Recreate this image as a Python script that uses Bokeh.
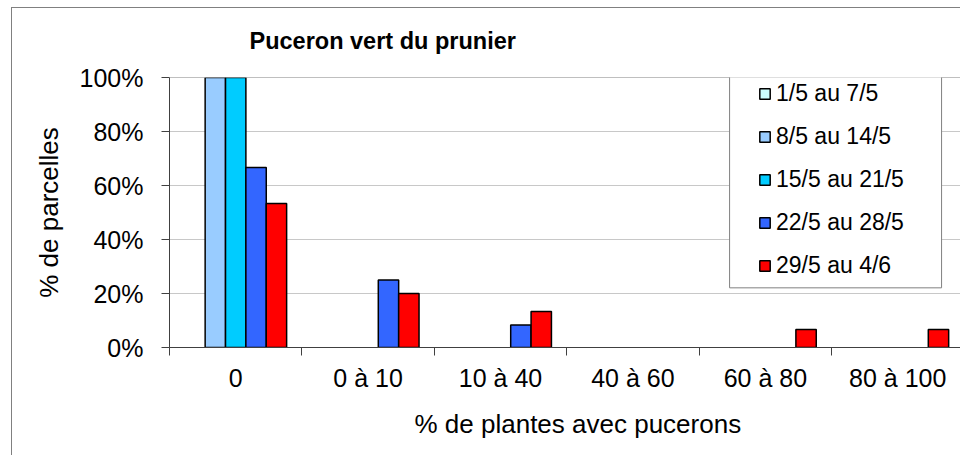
from bokeh.plotting import figure
from bokeh.models import (FixedTicker, PrintfTickFormatter, Legend, LegendItem,
                          Title, Span, BoxAnnotation, Range1d, ColumnDataSource)
from bokeh.embed import file_html
from bokeh.resources import INLINE

# ---------------- data ----------------
categories = ["0", "0 à 10", "10 à 40", "40 à 60", "60 à 80", "80 à 100"]
series_names = ["1/5 au 7/5", "8/5 au 14/5", "15/5 au 21/5", "22/5 au 28/5", "29/5 au 4/6"]
s_01_05 = [0, 0, 0, 0, 0, 0]
s_08_05 = [100, 0, 0, 0, 0, 0]
s_15_05 = [100, 0, 0, 0, 0, 0]
s_22_05 = [66.7, 25, 8.3, 0, 0, 0]
s_29_05 = [53.3, 20, 13.3, 0, 6.7, 6.7]
y_ticks = [0, 20, 40, 60, 80, 100]

series_values = [s_01_05, s_08_05, s_15_05, s_22_05, s_29_05]
colors = ["#CCFFFF", "#99CCFF", "#00CCFF", "#3366FF", "#FF0000"]

FONT = "Liberation Sans"

p = figure(width=960, height=455, output_backend="svg", toolbar_location=None,
           x_range=Range1d(0, 5.974), y_range=Range1d(0, 100),
           min_border_left=169, min_border_top=77, min_border_bottom=107,
           min_border_right=0, outline_line_color=None,
           background_fill_color="white", border_fill_alpha=0)
p.margin = (0, 0, 0, 0)
# outer chart border (left and top edges) drawn behind the transparent canvas border
p.styles = {
    "background-color": "white",
    "background-image": "linear-gradient(#808080, #808080), linear-gradient(#808080, #808080)",
    "background-size": "100% 1px, 1px 100%",
    "background-position": "11px 7px, 11px 7px",
    "background-repeat": "no-repeat",
}

n = len(series_names)
bw = 1.0 / (n + 1.5)
renderers = []
for j, (name, vals, col) in enumerate(zip(series_names, series_values, colors)):
    xs = [i + 0.5 + (j - (n - 1) / 2) * bw for i in range(len(vals))]
    tops = [v if v > 0 else float("nan") for v in vals]
    src = ColumnDataSource(dict(x=xs, top=tops))
    r = p.vbar(x="x", top="top", bottom=0, width=bw, source=src,
               fill_color=col, line_color="black", line_width=1.5)
    renderers.append((name, r))

# axes
centers = [i + 0.5 for i in range(len(categories))]
p.xaxis.ticker = FixedTicker(ticks=centers, minor_ticks=list(range(len(categories) + 1)))
p.xaxis.major_label_overrides = {c: lab for c, lab in zip(centers, categories)}
p.xaxis.major_tick_out = 0
p.xaxis.major_tick_in = 0
p.xaxis.minor_tick_out = 8
p.xaxis.minor_tick_in = 0
p.xaxis.minor_tick_line_color = "#404040"
p.xaxis.axis_line_color = "#404040"
p.xaxis.major_label_standoff = 8
p.xaxis.major_label_text_font = FONT
p.xaxis.major_label_text_font_size = "25px"
p.xaxis.major_label_text_color = "black"

p.yaxis.ticker = FixedTicker(ticks=y_ticks)
p.yaxis.formatter = PrintfTickFormatter(format="%d%%")
p.yaxis.major_tick_out = 8
p.yaxis.major_tick_in = 0
p.yaxis.minor_tick_out = 0
p.yaxis.minor_tick_in = 0
p.yaxis.major_tick_line_color = "#404040"
p.yaxis.axis_line_color = "#404040"
p.yaxis.major_label_standoff = 18
p.yaxis.major_label_text_font = FONT
p.yaxis.major_label_text_font_size = "25px"
p.yaxis.major_label_text_color = "black"

p.xgrid.grid_line_color = None
p.ygrid.grid_line_color = "#c8c8c8"
p.ygrid.grid_line_width = 1

p.add_layout(Span(location=100, dimension="width", line_color="#808080", line_width=1))

# legend box
p.add_layout(BoxAnnotation(left=4.230, right=5.831, top=102.2, bottom=22.1,
                           fill_color="white", fill_alpha=1.0,
                           line_color="#808080", line_width=1, line_alpha=1.0))

legend = Legend(items=[LegendItem(label=nm, renderers=[r]) for nm, r in renderers],
                location=(589, 68), margin=0, padding=10, spacing=16,
                glyph_width=13, glyph_height=13, label_standoff=5,
                label_text_font=FONT, label_text_font_size="23px",
                label_text_color="black",
                border_line_color=None, background_fill_alpha=0)
p.add_layout(legend)

# titles
p.title.text = "Puceron vert du prunier"
p.title.text_font = FONT
p.title.text_font_style = "bold"
p.title.text_font_size = "23.5px"
p.title.text_color = "black"
p.title.align = "left"
p.title.offset = 80
p.title.standoff = 47

p.add_layout(Title(text="% de plantes avec pucerons", align="left", offset=245,
                   vertical_align="top", standoff=29, text_font=FONT,
                   text_font_style="normal", text_font_size="26px",
                   text_color="black"), "below")
p.add_layout(Title(text="% de parcelles", align="center", vertical_align="bottom",
                   standoff=26, text_font=FONT, text_font_style="normal",
                   text_font_size="26px", text_color="black"), "left")

open("out.html", "w").write(file_html(p, INLINE))
